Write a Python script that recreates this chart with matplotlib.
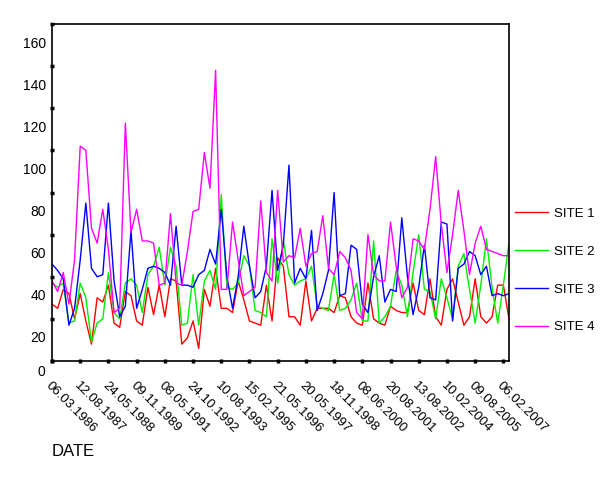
import matplotlib
matplotlib.use("Agg")
import matplotlib.pyplot as plt
import matplotlib.transforms as mtransforms

plt.rcParams['font.family'] = ['Liberation Sans', 'DejaVu Sans']

# ==========================
# Data
# ==========================

date_labels = [
    "06.03.1986", "12.08.1987", "24.05.1988", "09.11.1989", "08.05.1991",
    "24.10.1992", "10.08.1993", "15.02.1995", "21.05.1996", "20.05.1997",
    "18.11.1998", "08.06.2000", "20.08.2001", "13.08.2002", "10.02.2004",
    "09.08.2005", "06.02.2007",
]

site1 = [27, 25, 34, 32, 20, 32, 19, 8, 30, 28,
         36, 18, 16, 33, 31, 19, 17, 35, 22, 36,
         21, 39, 38, 8, 11, 19, 6, 34, 26, 44,
         25, 25, 23, 38, 29, 19, 18, 17, 36, 19,
         49, 45, 21, 21, 17, 38, 19, 25, 25, 25,
         23, 31, 30, 21, 18, 17, 37, 20, 18, 17,
         26, 24, 23, 23, 37, 24, 22, 39, 21, 17,
         34, 39, 28, 17, 21, 39, 21, 18, 21, 36,
         36, 20]

site2 = [37, 35, 37, 18, 19, 37, 30, 9, 18, 20,
         42, 23, 20, 37, 39, 36, 23, 41, 45, 54,
         36, 54, 45, 17, 18, 41, 17, 38, 43, 34,
         79, 35, 34, 37, 50, 45, 24, 23, 21, 58,
         37, 57, 41, 36, 38, 39, 45, 26, 25, 24,
         41, 24, 25, 29, 37, 19, 19, 57, 18, 21,
         26, 43, 36, 21, 42, 60, 34, 33, 20, 39,
         30, 20, 45, 51, 34, 18, 36, 58, 35, 18,
         36, 56]

site3 = [46, 43, 39, 17, 25, 48, 75, 44, 40, 41,
         75, 38, 21, 26, 62, 25, 34, 44, 45, 44,
         42, 36, 64, 36, 36, 35, 41, 43, 53, 46,
         72, 40, 25, 40, 64, 45, 30, 33, 45, 81,
         43, 55, 93, 37, 44, 39, 62, 24, 32, 43,
         80, 31, 32, 55, 53, 27, 23, 40, 50, 28,
         34, 33, 68, 40, 22, 35, 55, 30, 29, 66,
         65, 19, 44, 46, 52, 50, 41, 45, 31, 32,
         31, 32]

site4 = [38, 33, 42, 27, 48, 102, 100, 63, 56, 72,
         53, 23, 25, 113, 61, 72, 57, 57, 56, 36,
         37, 70, 37, 36, 52, 71, 72, 99, 82, 138,
         34, 34, 66, 48, 31, 33, 35, 76, 42, 38,
         81, 47, 50, 49, 63, 45, 51, 52, 69, 44,
         41, 52, 49, 43, 23, 20, 60, 41, 38, 38,
         66, 45, 30, 35, 58, 57, 53, 72, 97, 65,
         42, 60, 81, 62, 41, 56, 64, 53, 52, 51,
         50, 50]

y_ticks = [0, 20, 40, 60, 80, 100, 120, 140, 160]

# ==========================
# Plot
# ==========================

fig = plt.figure(figsize=(6.0, 4.91), dpi=100)
ax = fig.add_axes([52 / 600, 1 - 361 / 491, 457 / 600, 337 / 491])

x = list(range(len(site1)))
ax.plot(x, site1, color="#ff0000", lw=1.0, label="SITE 1")
ax.plot(x, site2, color="#00ee00", lw=1.0, label="SITE 2")
ax.plot(x, site3, color="#0000ff", lw=1.0, label="SITE 3")
ax.plot(x, site4, color="#ff00ff", lw=1.0, label="SITE 4")

ax.set_xlim(0, len(site1) - 1)
ax.set_ylim(0, 160)

ax.set_xticks(range(0, 5 * len(date_labels), 5))
ax.set_xticklabels(date_labels, rotation=-45, ha="left", va="top",
                   rotation_mode="anchor", fontsize=9.5)
ax.set_yticks(y_ticks)
ax.set_yticklabels([str(v) for v in y_ticks], fontsize=10)

ax.tick_params(axis="both", direction="inout", length=3, width=2.5)
ax.tick_params(axis="x", pad=12)
ax.tick_params(axis="y", pad=3)

for sp in ax.spines.values():
    sp.set_linewidth(1.2)

# y labels sit below their tick marks in the original
for lab, v in zip(ax.get_yticklabels(), y_ticks):
    dy = -10 if v == 0 else -18
    lab.set_transform(lab.get_transform() +
                      mtransforms.ScaledTranslation(0, dy / 100, fig.dpi_scale_trans))

fig.legend(loc="upper left", bbox_to_anchor=(503 / 600, 1 - 196 / 491),
           frameon=False, fontsize=9.5, handlelength=2.5,
           labelspacing=1.93, handletextpad=0.5)

fig.text(52 / 600, 1 - 452 / 491, "DATE", fontsize=12, ha="left", va="center")

fig.savefig("out.png", dpi=100)
